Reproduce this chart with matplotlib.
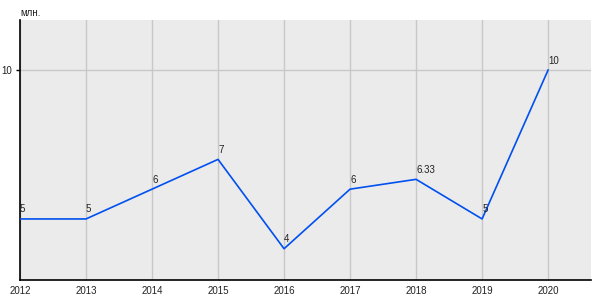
import matplotlib.pyplot as plt

# данные
years = [2012, 2013, 2014, 2015, 2016, 2017, 2018, 2019, 2020]
values = [5, 5, 6, 7, 4, 6, 6.33, 5, 10]
labels = ["5", "5", "6", "7", "4", "6", "6.33", "5", "10"]

plt.rcParams['font.family'] = ['Liberation Sans', 'DejaVu Sans']

fig = plt.figure(figsize=(6, 3), dpi=100)
ax = fig.add_axes([20/600, 20/300, 571/600, 260/300])
ax.set_facecolor('#ebebeb')

ax.plot(years, values, color='#0050f0', lw=1.2, zorder=3)
for x, y, t in zip(years, values, labels):
    ax.text(x, y + 0.15, t, fontsize=7, color='#222222', ha='left', va='bottom', zorder=4)

ax.set_xlim(2012, 2020.65)
ax.set_ylim(2.95, 11.68)
ax.set_xticks(years)
ax.set_xticklabels([str(y) for y in years], fontsize=7, color='#222222')
ax.set_yticks([10])
ax.set_yticklabels(["10"], fontsize=7, color='#222222')
ax.tick_params(axis='x', length=0, pad=4)
ax.tick_params(axis='y', length=3, width=1, pad=3)
ax.grid(True, color='#c8c8c8', lw=1)
ax.set_axisbelow(True)

for s in ['top', 'right']:
    ax.spines[s].set_visible(False)
ax.spines['left'].set_linewidth(1.2)
ax.spines['bottom'].set_linewidth(1.2)

fig.text(20/600, 1 - 13/300, "млн.", fontsize=7, color='#222222', va='center', ha='left')

fig.savefig('out.png', dpi=100)
